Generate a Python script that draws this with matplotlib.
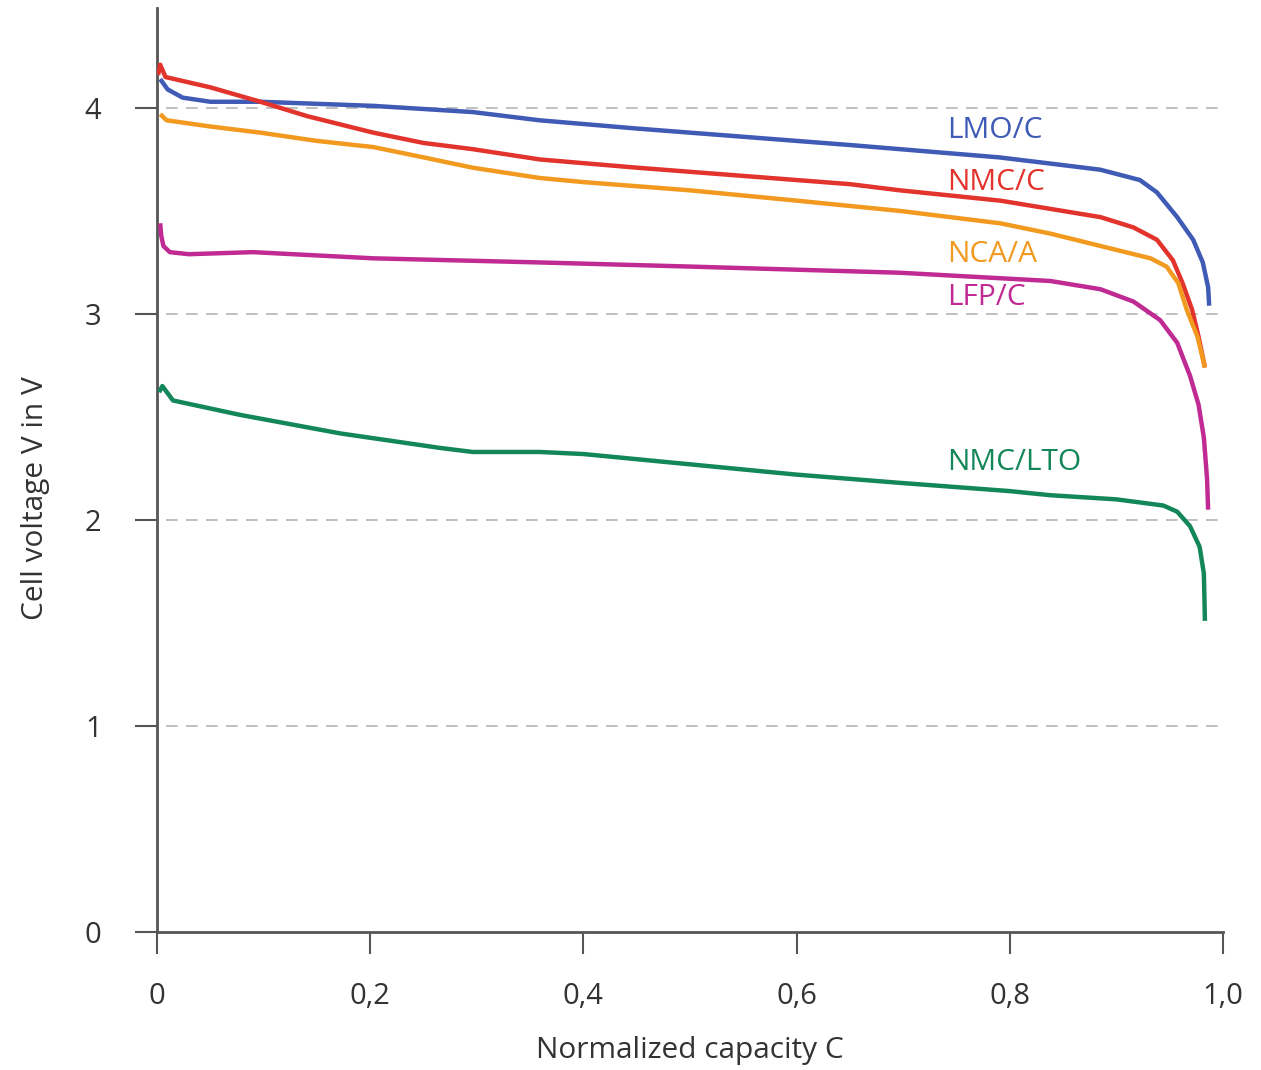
#!/usr/bin/env python3
# -*- coding: utf-8 -*-
"""
Discharge curves of Li-ion cell chemistries
"""

import matplotlib
matplotlib.use('Agg')
import matplotlib.pyplot as plt

plt.rcParams['font.family'] = ['Open Sans', 'DejaVu Sans']

# data (normalized capacity, cell voltage)
lmo_x = [0.003, 0.010, 0.024, 0.05, 0.097, 0.203, 0.296, 0.359, 0.45, 0.55, 0.65,
         0.72, 0.79, 0.838, 0.885, 0.922, 0.938, 0.957, 0.972, 0.981, 0.986, 0.987]
lmo_v = [4.14, 4.09, 4.05, 4.03, 4.03, 4.01, 3.98, 3.94, 3.90, 3.86, 3.82,
         3.79, 3.76, 3.73, 3.70, 3.65, 3.59, 3.47, 3.36, 3.25, 3.13, 3.04]

nmc_x = [0.001, 0.003, 0.008, 0.05, 0.097, 0.141, 0.203, 0.25, 0.296, 0.359, 0.45,
         0.55, 0.65, 0.697, 0.791, 0.838, 0.885, 0.916, 0.938, 0.953, 0.962,
         0.971, 0.977, 0.983]
nmc_v = [4.16, 4.21, 4.15, 4.10, 4.03, 3.96, 3.88, 3.83, 3.80, 3.75, 3.71,
         3.67, 3.63, 3.60, 3.55, 3.51, 3.47, 3.42, 3.36, 3.26, 3.15,
         3.02, 2.89, 2.74]

nca_x = [0.003, 0.009, 0.05, 0.097, 0.15, 0.203, 0.25, 0.296, 0.359, 0.4, 0.5,
         0.6, 0.697, 0.791, 0.838, 0.885, 0.932, 0.947, 0.958, 0.966, 0.976, 0.983]
nca_v = [3.97, 3.94, 3.91, 3.88, 3.84, 3.81, 3.76, 3.71, 3.66, 3.64, 3.60,
         3.55, 3.50, 3.44, 3.39, 3.33, 3.27, 3.23, 3.15, 3.02, 2.89, 2.74]

lfp_x = [0.003, 0.004, 0.006, 0.012, 0.03, 0.09, 0.203, 0.359, 0.5, 0.697, 0.838,
         0.885, 0.916, 0.941, 0.957, 0.969, 0.977, 0.982, 0.985, 0.986]
lfp_v = [3.44, 3.38, 3.33, 3.30, 3.29, 3.30, 3.27, 3.25, 3.23, 3.20, 3.16,
         3.12, 3.06, 2.97, 2.86, 2.70, 2.56, 2.40, 2.20, 2.05]

lto_x = [0.002, 0.005, 0.015, 0.078, 0.172, 0.265, 0.296, 0.33, 0.359, 0.4, 0.5,
         0.6, 0.697, 0.8, 0.838, 0.9, 0.944, 0.957, 0.969, 0.978, 0.982, 0.983]
lto_v = [2.62, 2.65, 2.58, 2.51, 2.42, 2.35, 2.33, 2.33, 2.33, 2.32, 2.27,
         2.22, 2.18, 2.14, 2.12, 2.10, 2.07, 2.04, 1.97, 1.87, 1.74, 1.51]

series = [
    ('LMO/C', lmo_x, lmo_v, '#3f5bb5', 3.89),
    ('NMC/C', nmc_x, nmc_v, '#e2332c', 3.64),
    ('NCA/A', nca_x, nca_v, '#f29a1f', 3.29),
    ('LFP/C', lfp_x, lfp_v, '#c02a93', 3.08),
    ('NMC/LTO', lto_x, lto_v, '#14875a', 2.28),
]

x_ticks = [0, 0.2, 0.4, 0.6, 0.8, 1.0]
x_tick_labels = ['0', '0,2', '0,4', '0,6', '0,8', '1,0']
y_ticks = [0, 1, 2, 3, 4]
grid_levels = [1, 2, 3, 4]

fig = plt.figure(figsize=(12.61, 10.70), dpi=100)
ax = fig.add_axes([0.1245, 0.129, 0.8454, 0.8635])

ax.set_xlim(0, 1.0)
ax.set_ylim(0, 4.485)

# dashed horizontal guide lines
ax.hlines(grid_levels, 0.008, 0.997, colors='#b5b5b5', linewidth=1.2,
          linestyles=(0, (7, 5)), zorder=1)

for name, xs, vs, color, label_y in series:
    ax.plot(xs, vs, color=color, linewidth=3.2, solid_capstyle='butt',
            solid_joinstyle='round', zorder=3)
    ax.text(0.741, label_y, name, color=color, fontsize=21.5,
            ha='left', va='center')

for side in ['top', 'right']:
    ax.spines[side].set_visible(False)
for side in ['left', 'bottom']:
    ax.spines[side].set_color('#555555')
    ax.spines[side].set_linewidth(2)

ax.set_xticks(x_ticks)
ax.set_xticklabels(x_tick_labels)
ax.set_yticks(y_ticks)
ax.tick_params(axis='both', direction='out', length=16, width=1.5,
               color='#555555', labelsize=21, labelcolor='#333333')
ax.tick_params(axis='x', pad=20)
ax.tick_params(axis='y', pad=24)

ax.set_xlabel('Normalized capacity C', fontsize=21.5, color='#333333')
ax.xaxis.set_label_coords(0.5, -0.128)
ax.xaxis.label.set_va('center')
ax.set_ylabel('Cell voltage V in V', fontsize=21.5, color='#333333')
ax.yaxis.set_label_coords(-0.1, 0.47)

plt.savefig('out.png', dpi=100)
plt.close()
